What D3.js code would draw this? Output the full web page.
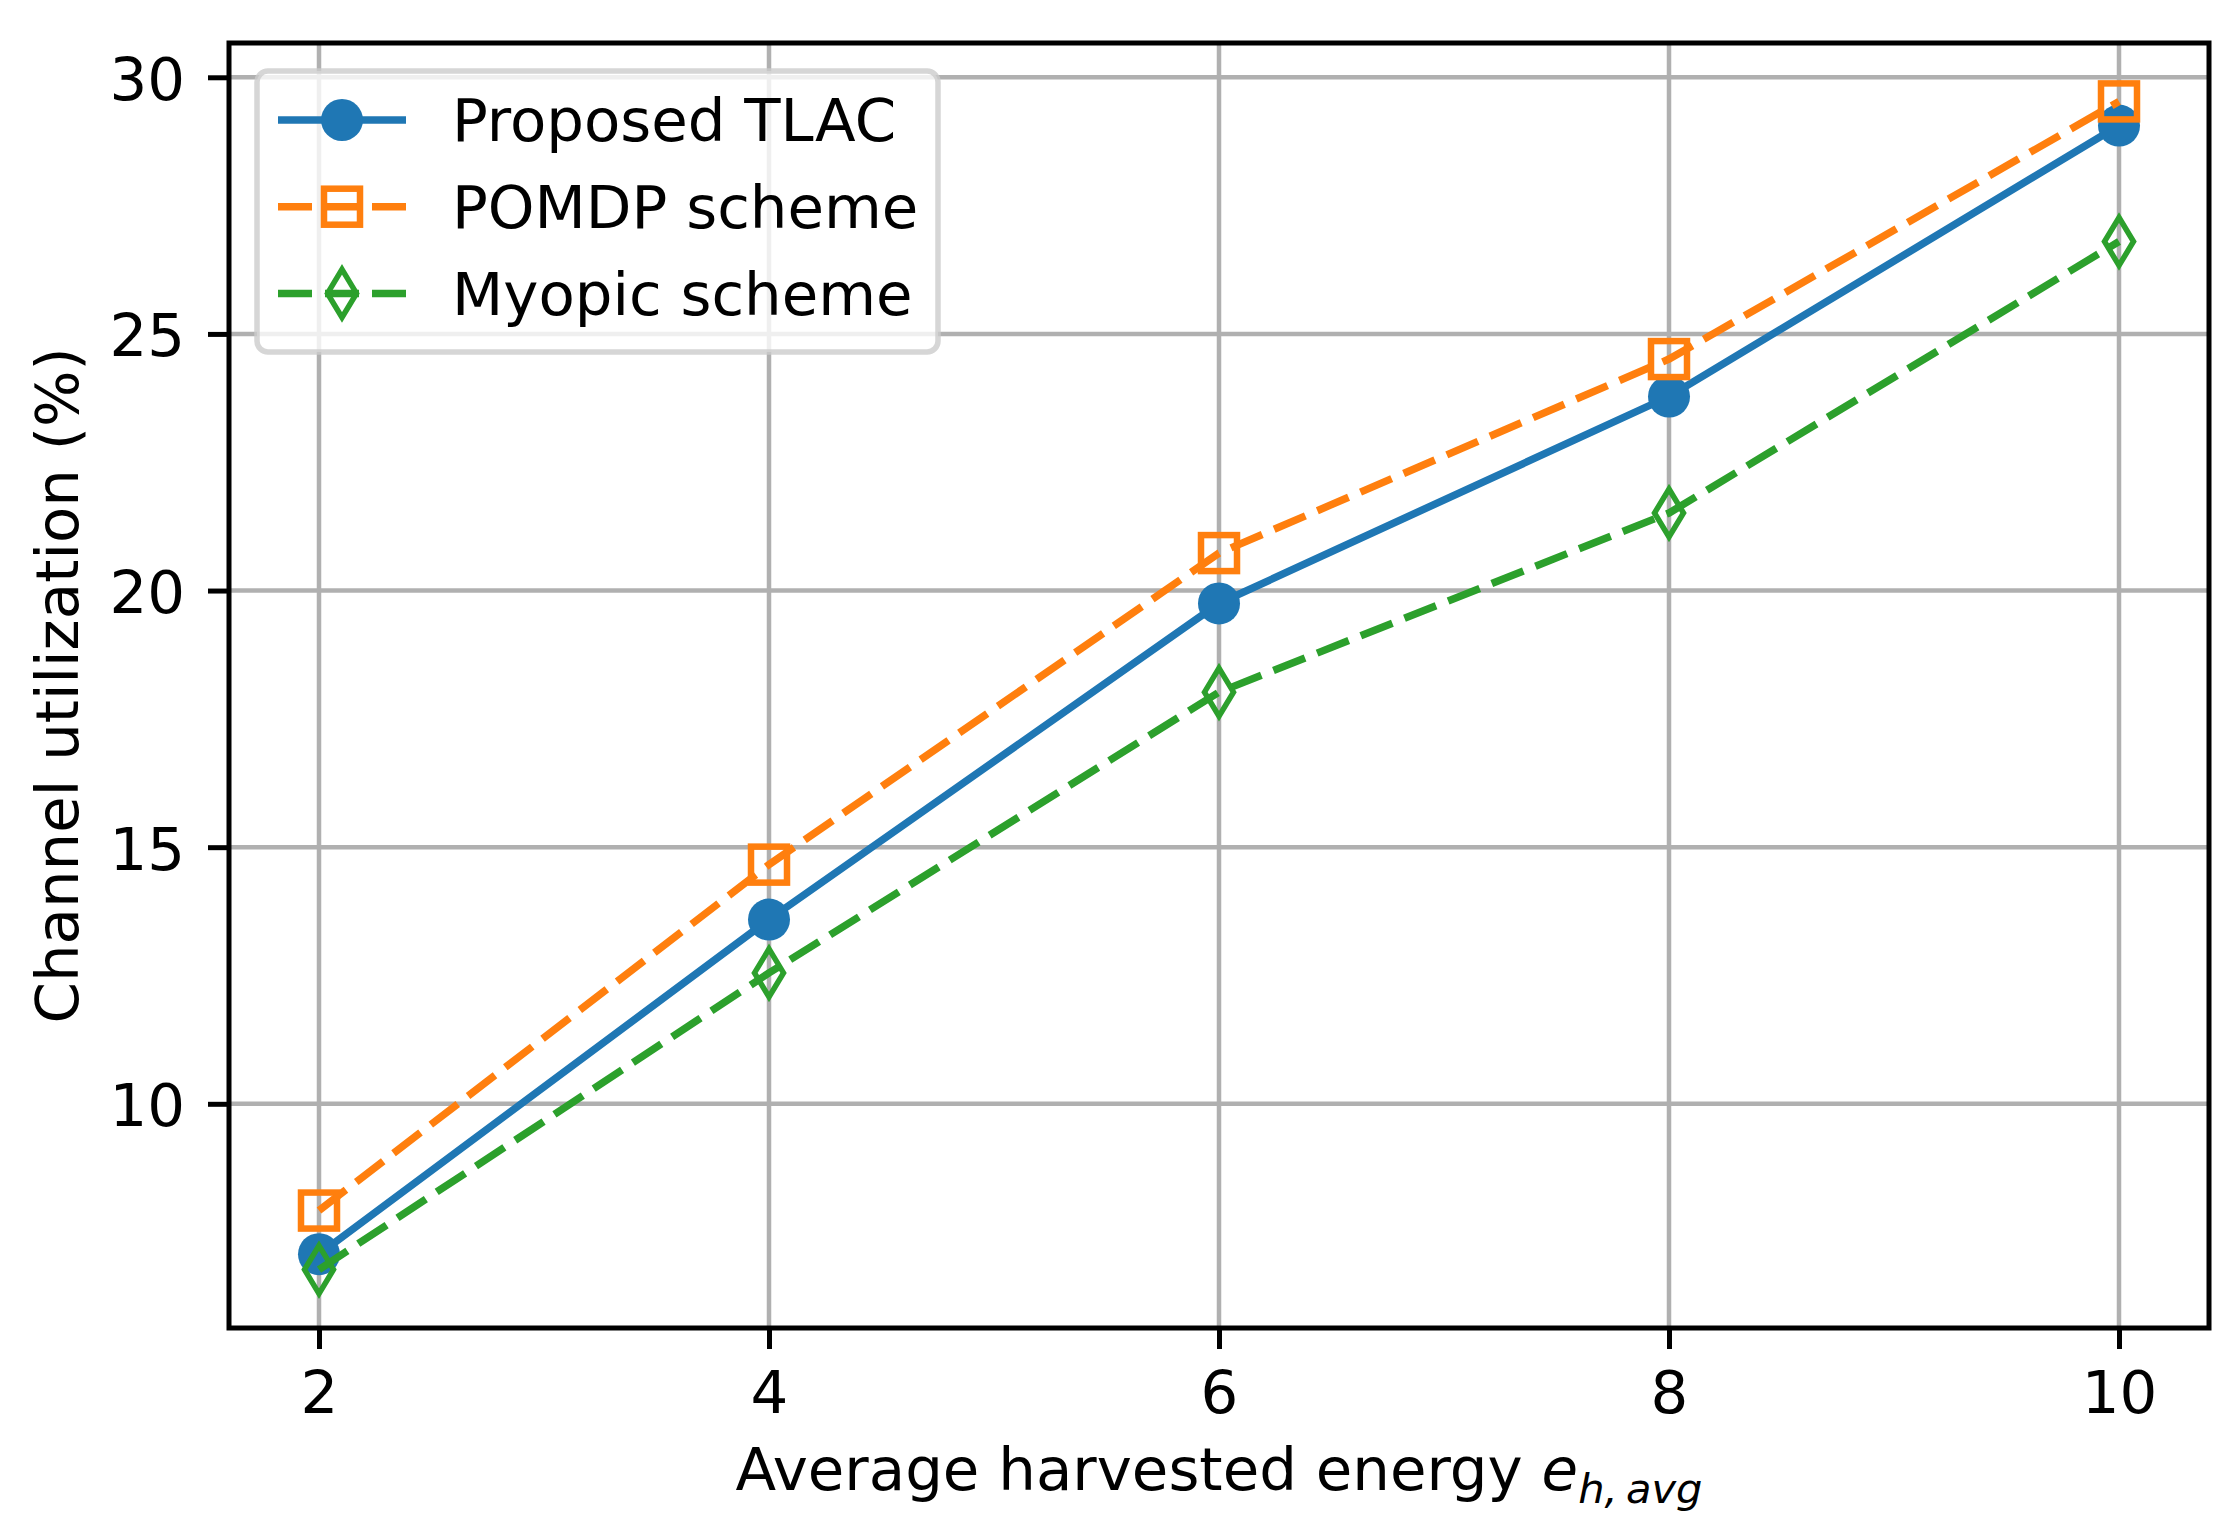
<!DOCTYPE html>
<html>
<head>
<meta charset="utf-8">
<script src="https://cdn.jsdelivr.net/npm/d3@7"></script>
<style>
    html, body { margin: 0; padding: 0; background: #ffffff; }
    svg { display: block; }
    text { font-family: "DejaVu Sans", sans-serif; fill: #000000; }
</style>
</head>
<body>
<svg id="sketchbook"></svg>
<script>
// 図から読み取った値
const energyLevels      = [2, 4, 6, 8, 10];
const tlacUtilization   = [7.07, 13.59, 19.75, 23.78, 29.06];
const pomdpUtilization  = [7.92, 14.66, 20.73, 24.51, 29.53];
const myopicUtilization = [6.77, 12.55, 18.02, 21.51, 26.80];
const seriesNames       = ['Proposed TLAC', 'POMDP scheme', 'Myopic scheme'];
const xTickValues       = [2, 4, 6, 8, 10];
const yTickValues       = [10, 15, 20, 25, 30];
const yAxisTitle        = 'Channel utilization (%)';
const xAxisTitle        = 'Average harvested energy ';

/**
 * matplotlib 風の折れ線グラフを D3 で描くクラス。
 */
class LineSketcher {
    constructor(options) {
        this._options = options;
        this._font = 59.4;
        this._lineWidth = 7.5;
    }
    /**
     * matplotlib と同じく 5% の余白を付けた domain を返す。
     */
    paddedExtent (values) {
        let ext = d3.extent(values);
        let pad = (ext[1] - ext[0]) * 0.05;
        return [ext[0] - pad, ext[1] + pad];
    }
    makeScales () {
        let box = this._options.box;
        let allY = [].concat(tlacUtilization, pomdpUtilization, myopicUtilization);

        this._x = d3.scaleLinear()
            .domain(this.paddedExtent(energyLevels))
            .range([box.left, box.right]);
        this._y = d3.scaleLinear()
            .domain(this.paddedExtent(allY))
            .range([box.bottom, box.top]);
        return this;
    }
    drawGrid (svg) {
        let box = this._options.box;
        let g = svg.append('g').attr('class', 'grid');

        g.selectAll('line.vgrid')
            .data(xTickValues)
            .enter()
            .append('line')
            .attr('x1', (d) => { return this._x(d); })
            .attr('x2', (d) => { return this._x(d); })
            .attr('y1', box.top)
            .attr('y2', box.bottom)
            .attr('stroke', '#b0b0b0')
            .attr('stroke-width', 4.5);

        g.selectAll('line.hgrid')
            .data(yTickValues)
            .enter()
            .append('line')
            .attr('x1', box.left)
            .attr('x2', box.right)
            .attr('y1', (d) => { return this._y(d); })
            .attr('y2', (d) => { return this._y(d); })
            .attr('stroke', '#b0b0b0')
            .attr('stroke-width', 4.5);
    }
    /**
     * マーカーを 1 つ描く。kind: circle / square / thin_diamond
     */
    drawMarker (g, kind, color) {
        if (kind === 'circle') {
            g.append('circle')
                .attr('r', 21)
                .attr('fill', color);
        } else if (kind === 'square') {
            g.append('rect')
                .attr('x', -18).attr('y', -18)
                .attr('width', 36).attr('height', 36)
                .attr('fill', 'none')
                .attr('stroke', color)
                .attr('stroke-width', 6.5)
                .attr('stroke-linejoin', 'miter');
        } else {
            g.append('path')
                .attr('d', 'M0,-24L14.5,0L0,24L-14.5,0Z')
                .attr('fill', 'none')
                .attr('stroke', color)
                .attr('stroke-width', 5.5)
                .attr('stroke-linejoin', 'miter')
                .attr('stroke-miterlimit', 10);
        }
    }
    drawSeries (svg) {
        let line = d3.line()
            .x((d) => { return this._x(d.x); })
            .y((d) => { return this._y(d.y); });

        this._series.forEach((s) => {
            let points = energyLevels.map((x, i) => { return { x: x, y: s.values[i] }; });
            let g = svg.append('g').attr('class', 'series');

            g.append('path')
                .datum(points)
                .attr('d', line)
                .attr('fill', 'none')
                .attr('stroke', s.color)
                .attr('stroke-width', this._lineWidth)
                .attr('stroke-dasharray', s.dash);

            g.selectAll('g.marker')
                .data(points)
                .enter()
                .append('g')
                .attr('class', 'marker')
                .attr('transform', (d) => {
                    return 'translate(' + this._x(d.x) + ',' + this._y(d.y) + ')';
                })
                .each((d, i, nodes) => {
                    this.drawMarker(d3.select(nodes[i]), s.marker, s.color);
                });
        });
    }
    drawAxes (svg) {
        let box = this._options.box;

        let xAxis = svg.append('g')
            .attr('transform', 'translate(0,' + box.bottom + ')')
            .call(d3.axisBottom(this._x)
                  .tickValues(xTickValues)
                  .tickSize(21)
                  .tickPadding(22)
                  .tickFormat(d3.format('d')));

        let yAxis = svg.append('g')
            .attr('transform', 'translate(' + box.left + ',0)')
            .call(d3.axisLeft(this._y)
                  .tickValues(yTickValues)
                  .tickSize(21)
                  .tickPadding(23)
                  .tickFormat(d3.format('d')));

        [xAxis, yAxis].forEach((a) => {
            a.select('.domain').remove();
            a.selectAll('.tick line')
                .attr('stroke', '#000')
                .attr('stroke-width', 5);
            a.selectAll('.tick text')
                .attr('font-size', this._font)
                .attr('font-family', '"DejaVu Sans", sans-serif')
                .attr('fill', '#000');
        });
        yAxis.selectAll('.tick text').attr('dy', '0.37em');

        // 枠線
        svg.append('rect')
            .attr('x', box.left)
            .attr('y', box.top)
            .attr('width', box.right - box.left)
            .attr('height', box.bottom - box.top)
            .attr('fill', 'none')
            .attr('stroke', '#000')
            .attr('stroke-width', 5);

        // 軸ラベル
        svg.append('text')
            .attr('transform', 'translate(78,' + ((box.top + box.bottom) / 2) + ') rotate(-90)')
            .attr('text-anchor', 'middle')
            .attr('font-size', this._font)
            .text(yAxisTitle);

        let xl = svg.append('text')
            .attr('x', (box.left + box.right) / 2)
            .attr('y', 1490)
            .attr('text-anchor', 'middle')
            .attr('font-size', this._font);
        xl.append('tspan').text(xAxisTitle);
        xl.append('tspan').attr('font-style', 'italic').text('e');
        xl.append('tspan')
            .attr('font-style', 'italic')
            .attr('font-size', this._font * 0.7)
            .attr('dy', 13)
            .text('h,\u2009avg');
    }
    drawLegend (svg) {
        let lg = svg.append('g').attr('class', 'legend');

        lg.append('rect')
            .attr('x', 257).attr('y', 71)
            .attr('width', 681).attr('height', 281)
            .attr('rx', 11).attr('ry', 11)
            .attr('fill', '#ffffff')
            .attr('fill-opacity', 0.8)
            .attr('stroke', '#cccccc')
            .attr('stroke-opacity', 0.8)
            .attr('stroke-width', 5.5);

        let rows = lg.selectAll('g.row')
            .data(this._series)
            .enter()
            .append('g')
            .attr('class', 'row')
            .attr('transform', (d, i) => { return 'translate(0,' + (120 + i * 86.7) + ')'; });

        rows.append('line')
            .attr('x1', 278).attr('x2', 406)
            .attr('y1', 0).attr('y2', 0)
            .attr('stroke', (d) => { return d.color; })
            .attr('stroke-width', this._lineWidth)
            .attr('stroke-dasharray', (d) => { return d.dash; });

        rows.each((d, i, nodes) => {
            let m = d3.select(nodes[i]).append('g').attr('transform', 'translate(342,0)');
            this.drawMarker(m, d.marker, d.color);
        });

        rows.append('text')
            .attr('x', 452)
            .attr('y', 0)
            .attr('dy', '0.36em')
            .attr('font-size', this._font)
            .text((d) => { return d.name; });
    }
    draw () {
        let svg = d3.select(this._options.selector)
            .attr('width', this._options.w)
            .attr('height', this._options.h);

        this._series = [
            { name: seriesNames[0], values: tlacUtilization,   color: '#1f77b4', dash: null,    marker: 'circle' },
            { name: seriesNames[1], values: pomdpUtilization,  color: '#ff7f0e', dash: '34,13', marker: 'square' },
            { name: seriesNames[2], values: myopicUtilization, color: '#2ca02c', dash: '34,13', marker: 'thin_diamond' },
        ];

        this.makeScales();
        this.drawGrid(svg);
        this.drawSeries(svg);
        this.drawAxes(svg);
        this.drawLegend(svg);
        return this;
    }
}

new LineSketcher({
    selector: '#sketchbook',
    w: 2233,
    h: 1535,
    box: { left: 229, right: 2209, top: 43, bottom: 1328 },
}).draw();
</script>
</body>
</html>
